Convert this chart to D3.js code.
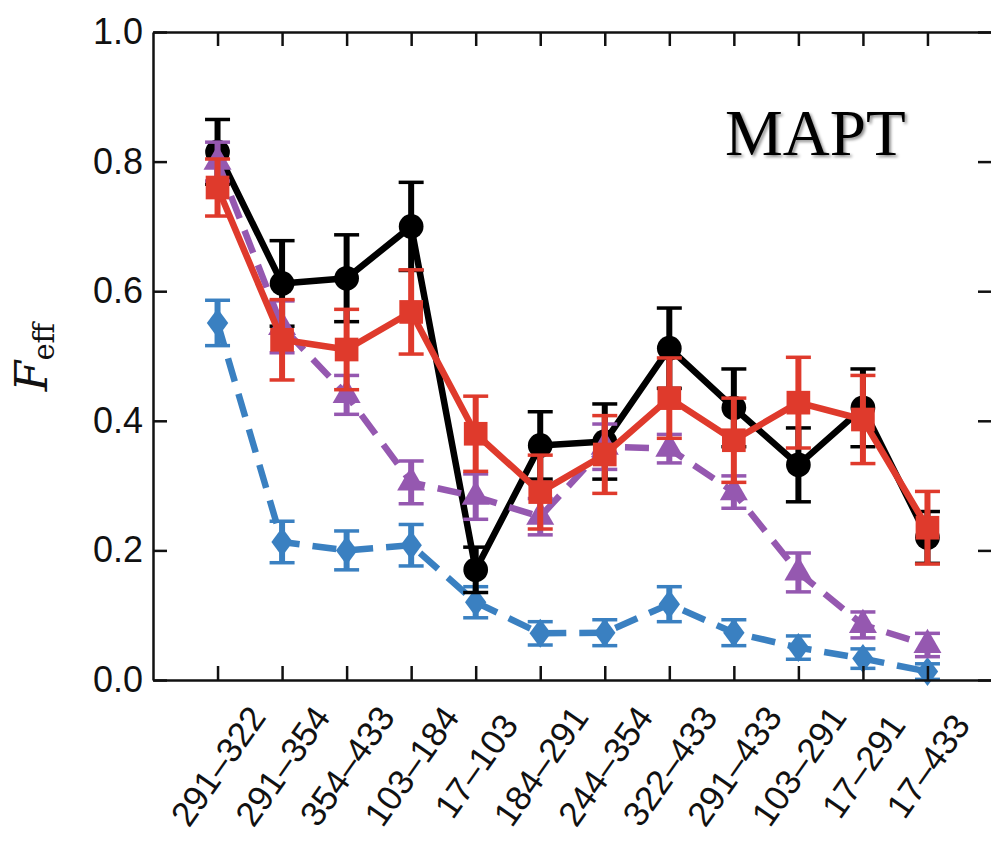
<!DOCTYPE html>
<html>
<head>
<meta charset="utf-8">
<script src="https://cdn.jsdelivr.net/npm/d3@7"></script>
<style>
  body { margin: 0; background: #fff; }
  #wrapper { width: 991px; height: 846px; overflow: hidden; }
</style>
</head>
<body>
<div id="wrapper"></div>
<script>
// fragment pairs along the x axis
const categories = ["291–322", "291–354", "354–433", "103–184", "17–103", "184–291",
                    "244–354", "322–433", "291–433", "103–291", "17–291", "17–433"];
const yTicks = [0.0, 0.2, 0.4, 0.6, 0.8, 1.0];

// four series, value and symmetric error
const blackValues = [0.815, 0.612, 0.62, 0.70, 0.17, 0.362, 0.368, 0.512, 0.42, 0.332, 0.42, 0.22];
const blackErrors = [0.05, 0.066, 0.067, 0.068, 0.035, 0.052, 0.058, 0.062, 0.06, 0.057, 0.06, 0.04];
const redValues = [0.76, 0.525, 0.51, 0.568, 0.38, 0.29, 0.348, 0.435, 0.37, 0.428, 0.402, 0.235];
const redErrors = [0.044, 0.062, 0.062, 0.065, 0.058, 0.057, 0.06, 0.062, 0.065, 0.07, 0.068, 0.056];
const purpleValues = [0.80, 0.545, 0.44, 0.305, 0.283, 0.252, 0.36, 0.357, 0.29, 0.166, 0.085, 0.054];
const purpleErrors = [0.03, 0.04, 0.03, 0.033, 0.035, 0.028, 0.035, 0.022, 0.025, 0.03, 0.02, 0.018];
const blueValues = [0.551, 0.213, 0.20, 0.208, 0.12, 0.072, 0.073, 0.117, 0.073, 0.05, 0.033, 0.013];
const blueErrors = [0.035, 0.032, 0.03, 0.032, 0.024, 0.018, 0.02, 0.027, 0.02, 0.018, 0.015, 0.012];

async function buildPlot() {
    var dimension = {
        width: 991,
        height: 846,
        left: 153,
        right: 992,
        top: 32,
        bottom: 680
    };

    const svg = d3.select("#wrapper").append("svg")
        .attr("width", dimension.width)
        .attr("height", dimension.height)
        .style("font-family", "'DejaVu Sans', sans-serif");

    const defs = svg.append("defs");
    const shadow = defs.append("filter").attr("id", "shadow")
        .attr("x", "-10%").attr("y", "-20%").attr("width", "130%").attr("height", "150%");
    shadow.append("feDropShadow")
        .attr("dx", 2).attr("dy", 2).attr("stdDeviation", 1.5)
        .attr("flood-color", "#000").attr("flood-opacity", 0.45);

    const xScaler = d3.scaleLinear()
        .domain([-1, categories.length])
        .range([dimension.left, dimension.right]);

    const yScaler = d3.scaleLinear()
        .domain([0, 1])
        .range([dimension.bottom, dimension.top]);

    const idx = d3.range(categories.length);

    // series drawn back to front
    const series = [
        {values: blueValues, errors: blueErrors, color: "#3a80c1", dash: "24,13", marker: "diamond"},
        {values: blackValues, errors: blackErrors, color: "#000000", dash: null, marker: "circle"},
        {values: purpleValues, errors: purpleErrors, color: "#9558b0", dash: "24,13", marker: "triangle"},
        {values: redValues, errors: redErrors, color: "#df3a2c", dash: null, marker: "square"}
    ];

    const line = d3.line()
        .x((d) => xScaler(d.i))
        .y((d) => yScaler(d.v));

    const symbolOf = {
        diamond: d3.symbol().type(d3.symbolDiamond).size(300),
        circle: d3.symbol().type(d3.symbolCircle).size(480),
        triangle: d3.symbol().type(d3.symbolTriangle).size(340),
        square: d3.symbol().type(d3.symbolSquare).size(560)
    };

    series.forEach((s) => {
        const pts = idx.map((i) => ({i: i, v: s.values[i], e: s.errors[i]}));
        const g = svg.append("g");

        g.append("path")
            .datum(pts)
            .attr("d", line)
            .attr("fill", "none")
            .attr("stroke", s.color)
            .attr("stroke-width", 6.5)
            .attr("stroke-dasharray", s.dash)
            .attr("stroke-linejoin", "round");

        //error bars
        const bars = g.selectAll("g.err")
            .data(pts)
            .enter()
            .append("g")
            .attr("class", "err")
            .attr("stroke", s.color);

        bars.append("line")
            .attr("x1", (d) => xScaler(d.i))
            .attr("x2", (d) => xScaler(d.i))
            .attr("y1", (d) => yScaler(d.v - d.e))
            .attr("y2", (d) => yScaler(d.v + d.e))
            .attr("stroke-width", 6);

        [-1, 1].forEach((sign) => {
            bars.append("line")
                .attr("x1", (d) => xScaler(d.i) - 12.5)
                .attr("x2", (d) => xScaler(d.i) + 12.5)
                .attr("y1", (d) => yScaler(d.v + sign * d.e))
                .attr("y2", (d) => yScaler(d.v + sign * d.e))
                .attr("stroke-width", 3.5);
        });

        //markers
        g.selectAll("path.marker")
            .data(pts)
            .enter()
            .append("path")
            .attr("class", "marker")
            .attr("d", symbolOf[s.marker])
            .attr("transform", (d) => `translate(${xScaler(d.i)},${yScaler(d.v)})` +
                (s.marker === "diamond" ? " scale(1.15,0.9)" : ""))
            .attr("fill", s.color);
    });

    // frame with inward ticks
    const left = svg.append("g")
        .attr("transform", `translate(${dimension.left},0)`)
        .call(d3.axisLeft(yScaler).tickValues(yTicks).tickFormat(d3.format(".1f"))
            .tickSizeInner(-14).tickSizeOuter(0).tickPadding(10));
    left.selectAll("text").style("font-size", "36px").attr("fill", "#111");

    const right = svg.append("g")
        .attr("transform", `translate(${dimension.right},0)`)
        .call(d3.axisRight(yScaler).tickValues(yTicks).tickFormat("")
            .tickSizeInner(-14).tickSizeOuter(0));

    const top = svg.append("g")
        .attr("transform", `translate(0,${dimension.top})`)
        .call(d3.axisTop(xScaler).tickValues(idx).tickFormat("")
            .tickSizeInner(-14).tickSizeOuter(0));

    const bottom = svg.append("g")
        .attr("transform", `translate(0,${dimension.bottom})`)
        .call(d3.axisBottom(xScaler).tickValues(idx).tickFormat((i) => categories[i])
            .tickSizeInner(-14).tickSizeOuter(0));
    bottom.selectAll("text")
        .attr("y", 0)
        .attr("dy", "0.35em")
        .attr("text-anchor", "middle")
        .attr("transform", "translate(0,86) rotate(-55)")
        .style("font-size", "35px")
        .attr("fill", "#111");

    [left, right, top, bottom].forEach((ax) => {
        ax.selectAll("path.domain").attr("stroke", "#111").attr("stroke-width", 2.5);
        ax.selectAll(".tick line").attr("stroke", "#111").attr("stroke-width", 2.5);
    });

    // y label
    const yLabel = svg.append("text")
        .attr("transform", "translate(47,357) rotate(-90)")
        .attr("text-anchor", "middle")
        .style("font-family", "'DejaVu Serif', serif")
        .attr("fill", "#111");
    yLabel.append("tspan").text("F").style("font-style", "italic").style("font-size", "44px");
    yLabel.append("tspan").text("eff").attr("dy", 7).style("font-size", "29px");

    // protein name
    svg.append("text")
        .attr("x", 725)
        .attr("y", 155)
        .style("font-family", "'Liberation Serif', 'Times New Roman', serif")
        .style("font-size", "65px")
        .attr("fill", "#000")
        .attr("filter", "url(#shadow)")
        .text("MAPT");
}

buildPlot()
</script>
</body>
</html>
